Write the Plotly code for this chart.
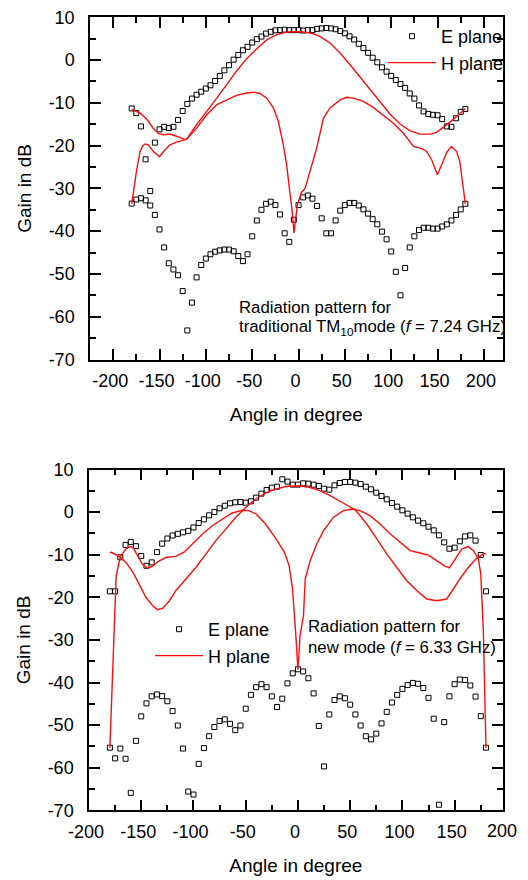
import plotly.graph_objects as go

# ---------------- data ----------------
angles = [-180, -175, -170, -165, -160, -155, -150, -145, -140, -135, -130, -125, -120,
          -115, -110, -105, -100, -95, -90, -85, -80, -75, -70, -65, -60, -55, -50, -45,
          -40, -35, -30, -25, -20, -15, -10, -5, 0, 5, 10, 15, 20, 25, 30, 35, 40, 45,
          50, 55, 60, 65, 70, 75, 80, 85, 90, 95, 100, 105, 110, 115, 120, 125, 130,
          135, 140, 145, 150, 155, 160, 165, 170, 175, 180]

# top chart: traditional TM10 mode, E plane (co / cross)
top_e_co = [-11.3, -12.4, -15.5, -23.2, -30.6, -19.3, -16.2, -15.6, -15.9, -15.6, -14.0, -11.9,
            -10.25, -9.0, -8.1, -7.4, -6.65, -5.9, -4.9, -3.7, -2.4, -1.2, 0.1, 1.2, 2.3, 3.1,
            4.1, 4.9, 5.5, 6.2, 6.6, 6.95, 7.0, 7.1, 7.0, 7.0, 7.0, 6.9, 7.0, 7.0, 7.3, 7.4,
            7.5, 7.4, 7.2, 6.8, 6.25, 5.55, 4.8, 3.8, 2.8, 1.7, 0.56, -0.53, -1.7, -2.7, -3.7,
            -4.66, -5.6, -6.5, -7.8, -9.0, -10.6, -12.0, -12.6, -12.8, -12.9, -13.8, -15.5,
            -15.6, -13.6, -12.1, -11.45]
top_e_cross = [-33.55, -32.6, -32.3, -32.8, -34.0, -36.2, -39.6, -43.8, -47.5, -48.95, -50.3,
               -54.0, -63.2, -56.7, -50.8, -47.9, -46.4, -45.4, -44.8, -44.5, -44.3, -44.3,
               -44.7, -45.8, -47.0, -45.4, -41.2, -37.5, -35.0, -33.6, -33.1, -33.9, -36.1,
               -40.5, -42.5, -37.3, -33.9, -32.1, -31.65, -32.4, -34.1, -37.0, -40.5, -40.5,
               -37.5, -35.2, -33.9, -33.4, -33.4, -34.0, -34.9, -35.9, -37.2, -38.4, -40.1,
               -41.9, -44.75, -49.5, -55.0, -48.6, -43.8, -41.2, -39.75, -39.2, -39.2, -39.4,
               -39.4, -38.9, -38.4, -37.5, -36.2, -34.9, -33.6]

# top chart: H plane (co / cross)
top_h_co_ang = [-180, -175, -171, -166, -162, -157, -151, -146, -139, -131.5, -122.5, -120.6,
                -110, -99, -88, -77.5, -67, -56, -45, -34, -23.6, -12.8, 0, 5, 10, 15, 23, 34,
                44.8, 55.6, 66.3, 77, 88, 98.7, 109.5, 120, 131, 142, 149, 158, 163.4, 170.6, 180]
top_h_co = [-11.5, -12.0, -12.4, -13.3, -14.3, -15.9, -17.2, -17.45, -17.3, -17.8, -18.6, -18.5,
            -15.1, -12.0, -8.9, -5.75, -2.6, 0.33, 2.67, 4.77, 5.94, 6.56, 6.65, 6.6, 6.45, 6.2,
            5.55, 4.0, 1.65, -1.08, -4.0, -6.9, -9.8, -12.6, -14.96, -16.5, -17.3, -17.3,
            -16.9, -15.5, -14.5, -13.2, -11.4]
top_h_cross_ang = [-180, -177, -174.6, -171, -168, -165.6, -162, -156.6, -150, -144, -138.7,
                   -131.5, -122.5, -120.6, -110, -99, -88, -77.5, -67, -56, -48.6, -41.5,
                   -34.3, -27, -21.8, -16.4, -12.8, -9.9, -7, -4.9, -1.3, 3, 7, 12.4, 19.6,
                   26.8, 34, 44.8, 52, 59, 70, 80.7, 91.5, 102, 113, 124, 133, 138, 143.6,
                   149.8, 156, 160, 165, 170.6, 174, 177.8, 180]
top_h_cross = [-33.6, -29.0, -25.6, -21.4, -20.0, -19.6, -19.8, -21.4, -22.6, -20.96, -19.8,
               -19.2, -18.6, -18.5, -15.9, -12.8, -10.4, -9.3, -8.25, -7.7, -7.5, -7.8, -8.9,
               -11.2, -14.3, -19.8, -24.5, -29.9, -35.0, -40.4, -33.9, -31.0, -30.0, -26.0,
               -20.6, -13.6, -11.2, -9.3, -8.7, -8.9, -9.65, -11.06, -12.8, -14.7, -17.06,
               -20.2, -20.7, -21.3, -23.3, -26.8, -23.7, -21.5, -20.2, -21.4, -23.7, -30.0,
               -33.6]

# bottom chart: new mode, E plane (co / cross)
bot_e_co = [-18.6, -18.6, -10.6, -7.7, -7.0, -8.0, -10.3, -12.6, -11.8, -9.4, -7.4, -6.2, -5.5,
            -5.1, -4.75, -4.4, -3.6, -2.56, -1.7, -0.76, 0.03, 0.89, 1.5, 2.06, 2.3, 2.37, 2.2,
            2.53, 3.4, 4.33, 5.19, 5.74, 5.97, 7.7, 7.15, 6.45, 6.45, 6.76, 6.68, 6.44, 6.13,
            5.5, 5.27, 6.29, 6.83, 7.07, 7.07, 6.91, 6.6, 5.97, 5.35, 4.56, 3.78, 3.0, 2.14,
            1.28, 0.42, -0.36, -1.23, -2.0, -2.63, -3.42, -4.28, -5.45, -7.1, -8.6, -8.35,
            -6.86, -5.7, -5.45, -6.7, -10.07, -18.6]
bot_e_cross = [-55.3, -57.8, -55.5, -57.9, -65.9, -53.7, -47.95, -44.9, -43.25, -42.8, -43.2,
               -44.4, -46.7, -50.1, -55.5, -65.6, -66.3, -59.1, -55.4, -52.6, -50.45, -49.05,
               -48.65, -49.7, -51.2, -50.1, -46.15, -42.9, -41.1, -40.4, -41.1, -43.25, -45.75,
               -43.8, -40.2, -37.85, -36.9, -37.4, -39.0, -42.55, -50.2, -59.7, -47.5, -44.1,
               -43.25, -43.7, -45.2, -47.5, -50.1, -52.6, -53.35, -52.0, -49.6, -46.9, -44.7,
               -42.9, -41.5, -40.6, -40.1, -40.3, -41.3, -43.6, -48.5, -68.7, -49.3, -43.25,
               -40.4, -39.3, -39.4, -40.7, -43.3, -47.9, -55.3]

# bottom chart: H plane (co / cross)
bot_h_co_ang = [-180, -178.7, -171, -164.7, -158, -152, -145.5, -139, -134.4, -129.6, -123,
                -116.8, -107, -97.7, -88, -78.6, -69, -59.5, -50, -40.4, -30.8, -21.2, -11.7,
                0, 10, 20, 30, 40, 50, 54.7, 60, 65.9, 75.5, 85, 94.6, 104.2, 113.7, 123.3,
                132.8, 142.4, 148.8, 155, 163, 171, 177.5, 180]
bot_h_co = [-9.5, -9.44, -10.4, -11.8, -14.1, -16.9, -20.0, -22.0, -22.9, -22.6, -20.8, -18.4,
            -15.7, -13.0, -9.8, -6.7, -4.0, -1.2, 1.1, 3.08, 4.49, 5.4, 6.0, 6.2, 5.9, 5.1, 4.0,
            2.5, 1.2, 0.57, -1.0, -2.8, -6.3, -9.8, -13.0, -16.1, -18.4, -20.4, -20.8, -20.4,
            -18.05, -15.7, -13.0, -10.85, -9.83, -9.7]
bot_h_cross_ang = [-180, -176, -174, -170, -165, -161, -158, -154, -149, -144, -139, -134,
                   -126, -117, -109, -101, -91, -82, -72, -63, -53, -47, -40, -31, -21, -13,
                   -8.4, -5.2, -2, 0, 2, 5.3, 7, 11.7, 18, 24.4, 34, 43.6, 51.5, 59.5, 69,
                   78.6, 88.2, 97.9, 107.3, 116.9, 124.9, 132.8, 140.8, 145, 150.4, 156.8, 163,
                   168, 172.7, 175, 177.5, 180]
bot_h_cross = [-55.3, -29.0, -15.0, -10.5, -8.7, -8.1, -8.3, -10.0, -12.2, -13.2, -12.7, -11.6,
               -10.6, -10.4, -9.4, -7.5, -5.1, -3.2, -1.6, -0.2, 0.42, 0.34, -0.44, -2.8, -6.3,
               -9.4, -12.6, -18.0, -29.0, -37.0, -29.0, -24.3, -15.7, -11.4, -7.5, -4.4, -1.2,
               0.34, 0.73, 0.34, -0.84, -2.8, -5.1, -7.1, -9.05, -9.6, -10.1, -11.4, -12.7,
               -13.1, -11.0, -8.7, -8.1, -9.05, -11.0, -14.5, -28.0, -55.3]

y_ticks = [10, 0, -10, -20, -30, -40, -50, -60, -70]
y_tick_labels = ["10", "0", "-10", "-20", "-30", "-40", "-50", "-60", "-70"]
y_minor = [5, -5, -15, -25, -35, -45, -55, -65]
x_ticks = [-200, -150, -100, -50, 0, 50, 100, 150, 200]
x_tick_labels = ["-200", "-150", "-100", "-50", "0", "50", "100", "150", "200"]
x_minor = [-225, -175, -125, -75, -25, 25, 75, 125, 175]

# ---------------- figure ----------------
# the page body has an 8 px margin, so the figure is 8 px smaller and every
# page position below is converted with that offset
OFF = 8
W, H = 528 - OFF, 880 - OFF
FONT = "Liberation Sans, Arial, sans-serif"
fig = go.Figure()

marker_style = dict(symbol="square-open", size=5, color="black", line=dict(width=1, color="black"))
line_style = dict(color="#ff0d0d", width=1.4)

fig.add_trace(go.Scatter(x=angles + [None] + angles, y=top_e_co + [None] + top_e_cross,
                         mode="markers", marker=marker_style, name="E plane",
                         xaxis="x", yaxis="y", legend="legend"))
fig.add_trace(go.Scatter(x=top_h_co_ang + [None] + top_h_cross_ang,
                         y=top_h_co + [None] + top_h_cross,
                         mode="lines", line=line_style, name="H plane",
                         xaxis="x", yaxis="y", legend="legend"))
fig.add_trace(go.Scatter(x=angles + [None] + angles, y=bot_e_co + [None] + bot_e_cross,
                         mode="markers", marker=marker_style, name="E plane",
                         xaxis="x2", yaxis="y2", legend="legend2"))
fig.add_trace(go.Scatter(x=bot_h_co_ang + [None] + bot_h_cross_ang,
                         y=bot_h_co + [None] + bot_h_cross,
                         mode="lines", line=line_style, name="H plane",
                         xaxis="x2", yaxis="y2", legend="legend2"))


def px_x(p):
    return (p - OFF) / W


def px_y(p):
    return 1 - (p - OFF) / H


common_axis = dict(showline=True, linecolor="black", linewidth=1.5, mirror="allticks",
                   ticks="inside", ticklen=11, tickwidth=1.5, tickcolor="black",
                   showgrid=False, zeroline=False, automargin=False,
                   ticklabeloverflow="allow",
                   tickfont=dict(family=FONT, size=18, color="black"))

xaxis_common = dict(common_axis, tickmode="array", tickvals=x_ticks, ticktext=x_tick_labels,
                    minor=dict(tickmode="array", tickvals=x_minor, ticks="inside", ticklen=6,
                               tickwidth=1.5, tickcolor="black", showgrid=False),
                    ticklabelshift=-3, ticklabelstandoff=4,
                    title=dict(text="Angle in degree", font=dict(family=FONT, size=19, color="black"),
                               standoff=18))
yaxis_common = dict(common_axis, range=[-70, 10], tickmode="array", tickvals=y_ticks,
                    ticktext=y_tick_labels,
                    minor=dict(tickmode="array", tickvals=y_minor, ticks="inside", ticklen=6,
                               tickwidth=1.5, tickcolor="black", showgrid=False),
                    ticklabelstandoff=10,
                    title=dict(text="Gain in dB", font=dict(family=FONT, size=19, color="black"),
                               standoff=12))

fig.update_layout(
    width=W, height=H, margin=dict(l=0, r=0, t=0, b=0, autoexpand=False),
    paper_bgcolor="white", plot_bgcolor="white", showlegend=True,
    xaxis=dict(xaxis_common, domain=[px_x(90), px_x(502.7)], range=[-225, 220.3], anchor="y"),
    yaxis=dict(yaxis_common, domain=[px_y(359.5), px_y(17.3)], anchor="x"),
    xaxis2=dict(xaxis_common, domain=[px_x(89), px_x(502.7)], range=[-200, 196], anchor="y2"),
    yaxis2=dict(yaxis_common, domain=[px_y(810.3), px_y(469.5)], anchor="x2"),
    legend=dict(x=px_x(383), y=px_y(18), xanchor="left", yanchor="top",
                bgcolor="rgba(0,0,0,0)", borderwidth=0, itemwidth=48, tracegroupgap=0,
                font=dict(family=FONT, size=18, color="black")),
    legend2=dict(x=px_x(150), y=px_y(611), xanchor="left", yanchor="top",
                 bgcolor="rgba(0,0,0,0)", borderwidth=0, itemwidth=48, tracegroupgap=0,
                 font=dict(family=FONT, size=18, color="black")),
)

ann_font = dict(family=FONT, size=16.8, color="black")
fig.add_annotation(x=px_x(237), y=px_y(307), xref="paper", yref="paper", xanchor="left",
                   yanchor="middle", text="Radiation pattern for", showarrow=False, font=ann_font)
fig.add_annotation(x=px_x(237), y=px_y(327), xref="paper", yref="paper", xanchor="left",
                   yanchor="middle", showarrow=False, font=ann_font,
                   text="traditional TM<sub>10</sub>mode (<i>f</i> = 7.24 GHz)")
fig.add_annotation(x=px_x(306), y=px_y(626), xref="paper", yref="paper", xanchor="left",
                   yanchor="middle", text="Radiation pattern for", showarrow=False, font=ann_font)
fig.add_annotation(x=px_x(306), y=px_y(647), xref="paper", yref="paper", xanchor="left",
                   yanchor="middle", showarrow=False, font=ann_font,
                   text="new mode (<i>f</i> = 6.33 GHz)")
# the last tick label of the lower axis sits just past the frame edge
fig.add_annotation(x=px_x(502), y=px_y(831), xref="paper", yref="paper", xanchor="center",
                   yanchor="middle", text="200", showarrow=False,
                   font=dict(family=FONT, size=18, color="black"))

fig.write_html("out.html")
